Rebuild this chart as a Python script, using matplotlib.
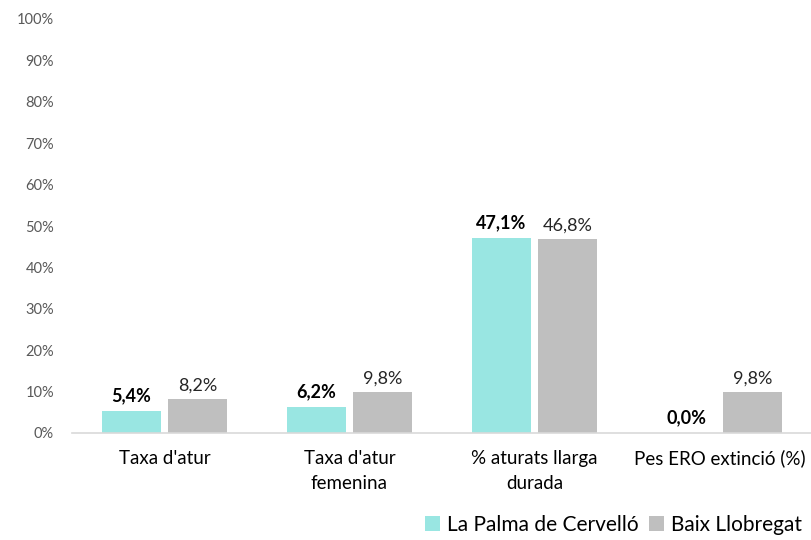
import matplotlib
matplotlib.use("Agg")
import matplotlib.pyplot as plt
from matplotlib.ticker import FuncFormatter
import numpy as np

categories = ["Taxa d'atur", "Taxa d'atur\nfemenina", "% aturats llarga\ndurada", "Pes ERO extinció (%)"]
series_names = ["La Palma de Cervelló", "Baix Llobregat"]
palma = [5.4, 6.2, 47.1, 0.0]
baix = [8.2, 9.8, 46.8, 9.8]
yticks = list(range(0, 101, 10))

plt.rcParams['font.family'] = ['Lato', 'DejaVu Sans']

fig = plt.figure(figsize=(8.12, 5.4), dpi=100)
ax = fig.add_axes([72/812, 1-433/540, 740/812, (433-19)/540])

x = np.arange(len(categories))
w = 0.32
off = 0.18
c1 = '#99E6E2'
c2 = '#BFBFBF'
b1 = ax.bar(x - off, palma, w, color=c1, label=series_names[0])
b2 = ax.bar(x + off, baix, w, color=c2, label=series_names[1])

def fmt(v):
    return f"{v:.1f}%".replace('.', ',')

for xi, v in zip(x, palma):
    ax.text(xi - off, v + 1.6, fmt(v), ha='center', va='bottom', fontsize=13,
            fontweight='bold', color='#000000')
for xi, v in zip(x, baix):
    ax.text(xi + off, v + 1.3, fmt(v), ha='center', va='bottom', fontsize=13,
            color='#262626')

ax.set_xlim(-0.5, len(categories) - 0.5)
ax.set_ylim(0, 100)
ax.set_yticks(yticks)
ax.yaxis.set_major_formatter(FuncFormatter(lambda v, p: f"{int(v)}%"))
ax.set_xticks(x)
ax.set_xticklabels(categories, fontsize=13.5, color='#000000', linespacing=1.6)
ax.tick_params(axis='y', length=0, labelsize=10.5, labelcolor='#595959', pad=13)
ax.tick_params(axis='x', length=0, pad=12)
for s in ['top', 'right', 'left']:
    ax.spines[s].set_visible(False)
ax.spines['bottom'].set_color('#D9D9D9')
ax.spines['bottom'].set_linewidth(1.2)

leg = fig.legend(handles=[b1, b2], labels=series_names, loc='lower right',
                 bbox_to_anchor=(1.0, -0.01), ncol=2, frameon=False, fontsize=15,
                 handlelength=0.75, handleheight=0.75, handletextpad=0.3,
                 columnspacing=0.5, borderaxespad=0.1)

fig.savefig('out.png', dpi=100)
